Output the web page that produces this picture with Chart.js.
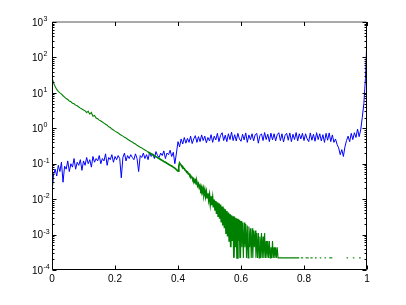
<!DOCTYPE html>
<html>
<head>
<meta charset="utf-8">
<script src="https://cdn.jsdelivr.net/npm/chart.js@4.4.1/dist/chart.umd.min.js"></script>
<style>
  html, body { margin: 0; padding: 0; background: #fff; }
  canvas { display: block; }
</style>
</head>
<body>
<canvas id="plot" width="406" height="305"></canvas>
<script>
// samples are on a regular grid in x
const gridStep = 0.005;

// blue curve, x = 0 .. 1
const blueY = [
  0.015, 0.05, 0.07, 0.045, 0.09, 0.06, 0.11, 0.03, 0.085, 0.07,
  0.12, 0.06, 0.1, 0.08, 0.14, 0.07, 0.11, 0.09, 0.13, 0.065,
  0.12, 0.09, 0.15, 0.1, 0.13, 0.08, 0.16, 0.11, 0.14, 0.12,
  0.17, 0.1, 0.14, 0.12, 0.19, 0.09, 0.15, 0.13, 0.18, 0.11,
  0.16, 0.13, 0.17, 0.14, 0.04, 0.15, 0.2, 0.12, 0.17, 0.14,
  0.18, 0.15, 0.13, 0.19, 0.14, 0.06, 0.17, 0.15, 0.2, 0.14,
  0.18, 0.13, 0.21, 0.16, 0.19, 0.14, 0.22, 0.17, 0.15, 0.2,
  0.17, 0.23, 0.14, 0.2, 0.18, 0.24, 0.16, 0.21, 0.1, 0.2,
  0.42, 0.3, 0.5, 0.36, 0.55, 0.38, 0.52, 0.4, 0.6, 0.37,
  0.5, 0.62, 0.4, 0.58, 0.42, 0.65, 0.45, 0.6, 0.39, 0.55,
  0.44, 0.66, 0.4, 0.6, 0.47, 0.72, 0.42, 0.63, 0.75, 0.45,
  0.64, 0.42, 0.7, 0.48, 0.78, 0.45, 0.66, 0.44, 0.72, 0.5,
  0.43, 0.68, 0.47, 0.74, 0.4, 0.65, 0.48, 0.7, 0.44, 0.66,
  0.72, 0.38, 0.62, 0.7, 0.45, 0.76, 0.48, 0.68, 0.42, 0.73,
  0.47, 0.7, 0.44, 0.66, 0.75, 0.45, 0.7, 0.41, 0.64, 0.72,
  0.46, 0.74, 0.42, 0.68, 0.48, 0.76, 0.44, 0.7, 0.5, 0.72,
  0.45, 0.7, 0.5, 0.42, 0.74, 0.46, 0.68, 0.43, 0.75, 0.48,
  0.7, 0.44, 0.66, 0.4, 0.72, 0.46, 0.74, 0.42, 0.65, 0.4,
  0.5, 0.35, 0.28, 0.18, 0.25, 0.16, 0.3, 0.45, 0.6, 0.42,
  0.72, 0.48, 0.75, 0.55, 0.95, 0.58, 0.9, 2, 5, 25,
  400
];

// green curve, x = 0 .. 0.4
const greenHeadY = [
  27, 19, 15, 12.5, 11, 10, 9.2, 8.3, 7.6, 6.9,
  6.5, 5.9, 5.6, 5.1, 4.9, 4.5, 4.3, 4.0, 3.7, 3.5,
  3.3, 3.1, 2.8, 3.0, 2.5, 2.8, 2.2, 2.3, 1.95, 1.85,
  1.7, 1.6, 1.5, 1.4, 1.3, 1.22, 1.1, 1.05, 0.95, 0.9,
  0.83, 0.78, 0.74, 0.68, 0.64, 0.6, 0.56, 0.53, 0.49, 0.46,
  0.43, 0.41, 0.38, 0.36, 0.33, 0.31, 0.29, 0.28, 0.26, 0.245,
  0.23, 0.215, 0.2, 0.19, 0.18, 0.168, 0.158, 0.15, 0.14, 0.132,
  0.124, 0.116, 0.11, 0.103, 0.097, 0.091, 0.086, 0.08, 0.075, 0.068,
  0.062
];

// green curve after the step, x = 0.4025 .. 0.75
const tailStart = 0.4025;
const tailStep = 0.0025;
const greenTailY = [
  0.085, 0.104, 0.095, 0.092, 0.084, 0.082, 0.074, 0.073, 0.066, 0.064,
  0.058, 0.059, 0.052, 0.052, 0.046, 0.046, 0.041, 0.041, 0.035, 0.037,
  0.031, 0.034, 0.027, 0.03, 0.024, 0.027, 0.021, 0.024, 0.019, 0.022,
  0.016, 0.02, 0.014, 0.018, 0.012, 0.016, 0.011, 0.0145, 0.0095, 0.013,
  0.0075, 0.012, 0.0068, 0.0105, 0.0058, 0.0098, 0.005, 0.0088, 0.0038, 0.0082,
  0.0033, 0.0076, 0.0028, 0.007, 0.0022, 0.0062, 0.0018, 0.0055, 0.0015, 0.0052,
  0.0011, 0.0046, 0.00088, 0.0042, 0.00066, 0.0038, 0.00044, 0.0035, 0.00066, 0.0033,
  0.00022, 0.0031, 0.00044, 0.0029, 0.00022, 0.0028, 0.00066, 0.0026, 0.00022, 0.0024,
  0.00044, 0.0022, 0.00022, 0.0022, 0.00044, 0.002, 0.00022, 0.0018, 0.00022, 0.0017,
  0.00044, 0.0015, 0.00022, 0.0015, 0.00022, 0.0013, 0.00044, 0.0013, 0.00022, 0.0011,
  0.00022, 0.0011, 0.00022, 0.00088, 0.00022, 0.0011, 0.00022, 0.00088, 0.00022, 0.0011,
  0.00022, 0.00066, 0.00022, 0.00066, 0.00022, 0.00066, 0.00022, 0.00044, 0.00022, 0.00066,
  0.00022, 0.00044, 0.00022, 0.00044, 0.00022, 0.00044, 0.00022, 0.00022, 0.00022, 0.00022,
  0.00022, 0.00022, 0.00022, 0.00022, 0.00022, 0.00022, 0.00022, 0.00022, 0.00022, 0.00022
];

// isolated non-zero runs at the lowest level
const sparseLevel = 0.00022;
const sparseStart = [0.75, 0.79, 0.805, 0.82, 0.835, 0.85, 0.865, 0.88, 0.935, 0.955, 0.975];
const sparseEnd   = [0.785, 0.7975, 0.815, 0.8275, 0.84, 0.855, 0.87, 0.89, 0.94, 0.96, 0.98];

const xTicks = [0, 0.2, 0.4, 0.6, 0.8, 1];
const xTickLabels = ['0', '0.2', '0.4', '0.6', '0.8', '1'];
const yExponents = [-4, -3, -2, -1, 0, 1, 2, 3];

const bluePts = blueY.map((v, i) => ({ x: i * gridStep, y: v }));
const greenPts = greenHeadY.map((v, i) => ({ x: i * gridStep, y: v }))
  .concat(greenTailY.map((v, i) => ({ x: tailStart + i * tailStep, y: v })));
sparseStart.forEach((s, i) => {
  greenPts.push({ x: s, y: sparseLevel }, { x: sparseEnd[i], y: sparseLevel }, { x: sparseEnd[i], y: null });
});

const axesPlugin = {
  id: 'boxAxes',
  afterDraw(chart) {
    const { ctx, chartArea: a, scales: { x, y } } = chart;
    ctx.save();
    ctx.strokeStyle = '#000';
    ctx.lineWidth = 1;
    const L = a.left + 0.5, R = a.right - 0.5, B = a.bottom - 0.5, T = a.top;
    ctx.beginPath();
    ctx.moveTo(L, T); ctx.lineTo(L, B); ctx.lineTo(R, B); ctx.lineTo(R, T);
    ctx.stroke();
    ctx.strokeStyle = '#555';
    ctx.beginPath();
    ctx.moveTo(L, T); ctx.lineTo(R, T);
    ctx.stroke();
    ctx.strokeStyle = '#000';

    ctx.beginPath();
    xTicks.forEach(v => {
      const px = Math.round(x.getPixelForValue(v)) + 0.5;
      ctx.moveTo(px, B); ctx.lineTo(px, B - 4);
      ctx.moveTo(px, T); ctx.lineTo(px, T + 4);
    });
    yExponents.forEach(e => {
      for (let m = 1; m <= 9; m++) {
        if (e === 3 && m > 1) break;
        const py = Math.round(y.getPixelForValue(m * Math.pow(10, e))) + 0.5;
        const len = m === 1 ? 4 : 2;
        ctx.moveTo(L, py); ctx.lineTo(L + len, py);
        ctx.moveTo(R, py); ctx.lineTo(R - len, py);
      }
    });
    ctx.stroke();

    ctx.fillStyle = '#000';
    ctx.font = '10px "Liberation Sans", Arial, sans-serif';
    ctx.textAlign = 'center';
    ctx.textBaseline = 'top';
    xTicks.forEach((v, i) => {
      ctx.fillText(xTickLabels[i], x.getPixelForValue(v), a.bottom + 4);
    });
    yExponents.forEach(e => {
      const py = y.getPixelForValue(Math.pow(10, e));
      ctx.font = '10px "Liberation Sans", Arial, sans-serif';
      ctx.textAlign = 'right';
      ctx.textBaseline = 'middle';
      ctx.fillText('10', a.left - 9, py + 1);
      ctx.font = '7px "Liberation Sans", Arial, sans-serif';
      ctx.textAlign = 'left';
      ctx.textBaseline = 'alphabetic';
      ctx.fillText(String(e), a.left - 8.5, py - 1);
    });
    ctx.restore();
  }
};

new Chart(document.getElementById('plot'), {
  type: 'line',
  data: {
    datasets: [
      {
        label: 'green',
        data: greenPts,
        borderColor: '#008000',
        borderWidth: 1.2,
        pointRadius: 0,
        tension: 0,
        spanGaps: false,
        segment: {
          borderWidth: c => (c.p0.parsed.x > 0.3 && c.p0.parsed.x < 0.6 ? 1.7 : 1.1)
        }
      },
      {
        label: 'blue',
        data: bluePts,
        borderColor: '#0000ff',
        borderWidth: 1,
        pointRadius: 0,
        tension: 0
      }
    ]
  },
  options: {
    responsive: false,
    animation: false,
    layout: { padding: { left: 52, right: 39, top: 22, bottom: 35 } },
    plugins: { legend: { display: false }, tooltip: { enabled: false } },
    scales: {
      x: { type: 'linear', min: 0, max: 1, display: false },
      y: { type: 'logarithmic', min: 1e-4, max: 1e3, display: false }
    }
  },
  plugins: [axesPlugin]
});
</script>
</body>
</html>
